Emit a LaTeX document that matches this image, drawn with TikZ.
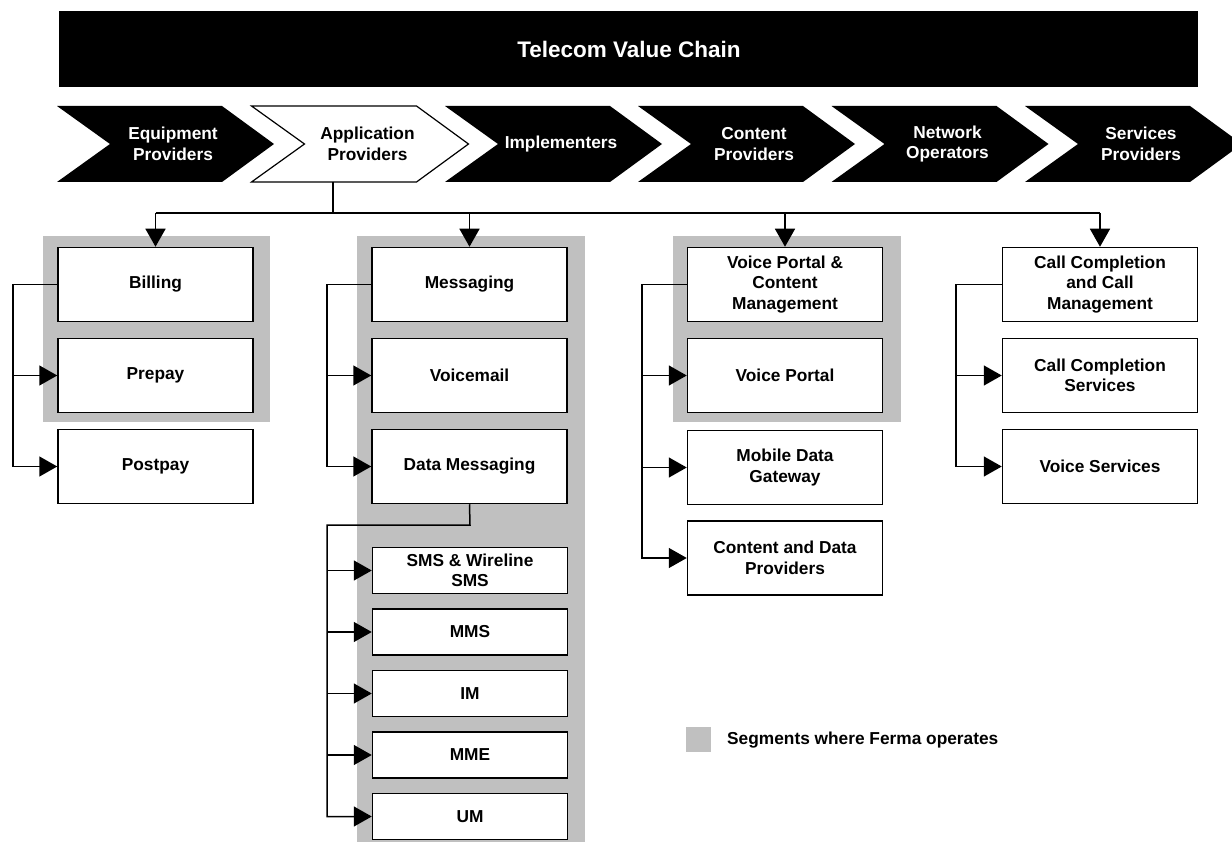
\documentclass[tikz,border=0pt]{standalone}
\usepackage{fontspec}
\setmainfont{Liberation Sans}
\usetikzlibrary{arrows.meta}
\definecolor{segray}{RGB}{192,192,192}
\begin{document}
\begin{tikzpicture}[x=1pt,y=-1pt,
  txt/.style={font=\bfseries\fontsize{17.3}{20.5}\selectfont, align=center},
  box/.style={txt, draw=black, line width=1.5pt, fill=white, minimum width=195pt, minimum height=74pt, inner sep=2pt},
  sbox/.style={box, minimum height=46pt},
  seg/.style={fill=segray, draw=none},
  conn/.style={draw=black, line width=1.5pt},
  arr/.style={conn, -{Triangle[length=18pt,width=20pt]}},
  chevtxt/.style={txt, text=white}]
\useasboundingbox (0,0) rectangle (1232,842);

% title bar
\fill[black] (59,11) rectangle (1198,87);
\node[font=\bfseries\fontsize{22.5}{26}\selectfont, text=white] (title) at (629,49) {Telecom Value Chain};

% chevrons
\foreach \x in {57,445,638,831.5,1025}{
  \fill[black] (\x,106) -- ++(165,0) -- ++(52,38) -- ++(-52,38) -- ++(-165,0) -- ++(53,-38) -- cycle;
}
\draw[fill=white, line width=1.2pt] (251.5,106) -- ++(165,0) -- ++(52,38) -- ++(-52,38) -- ++(-165,0) -- ++(53,-38) -- cycle;
\node[chevtxt] (eq)  at (173,144) {Equipment\\Providers};
\node[txt]     (app) at (367.5,144) {Application\\Providers};
\node[chevtxt] (imp) at (561,144) {Implementers};
\node[chevtxt] (con) at (754,144) {Content\\Providers};
\node[chevtxt] (net) at (947.5,144) {Network\\Operators};
\node[chevtxt] (srv) at (1141,144) {Services\\Providers};

% grey segments
\fill[seg] (43,236) rectangle (270,422);
\fill[seg] (357,236) rectangle (585,842);
\fill[seg] (673,236) rectangle (901,422);

% column 1
\node[box] (bill) at (155.5,284.5) {Billing};
\node[box] (pre)  at (155.5,375.5) {Prepay};
\node[box] (post) at (155.5,466.5) {Postpay};

% column 2
\node[box] (msg)  at (469.5,284.5) {Messaging};
\node[box] (vm)   at (469.5,375.5) {Voicemail};
\node[box] (dm)   at (469.5,466.5) {Data Messaging};
\node[sbox] (sms) at (470,570.5) {SMS \& Wireline\\SMS};
\node[sbox] (mms) at (470,632) {MMS};
\node[sbox] (im)  at (470,693.5) {IM};
\node[sbox] (mme) at (470,755) {MME};
\node[sbox] (um)  at (470,816.5) {UM};

% column 3
\node[box] (vpcm) at (785,284.5) {Voice Portal \&\\Content\\Management};
\node[box] (vp)   at (785,375.5) {Voice Portal};
\node[box] (mdg)  at (785,467.5) {Mobile Data\\Gateway};
\node[box] (cdp)  at (785,558) {Content and Data\\Providers};

% column 4
\node[box] (ccm) at (1100,284.5) {Call Completion\\and Call\\Management};
\node[box] (ccs) at (1100,375.5) {Call Completion\\Services};
\node[box] (vs)  at (1100,466.5) {Voice Services};

% top connectors
\coordinate (appb) at (333,182);
\coordinate (bus) at (333,213);
\draw[conn] (appb) -- (bus);
\draw[conn] (bill.north |- bus) -- (ccm.north |- bus);
\draw[arr] (bill.north |- bus) -- (bill.north);
\draw[arr] (msg.north |- bus) -- (msg.north);
\draw[arr] (vpcm.north |- bus) -- (vpcm.north);
\draw[arr] (ccm.north |- bus) -- (ccm.north);

% tree column 1
\coordinate (t1) at (13,284.5);
\draw[arr] (bill.west) -- (t1) |- (post.west);
\draw[arr] (t1 |- pre.west) -- (pre.west);

% tree column 2
\coordinate (t2) at (327,284.5);
\draw[arr] (msg.west) -- (t2) |- (dm.west);
\draw[arr] (t2 |- vm.west) -- (vm.west);
\coordinate (d1) at (470,525);
\coordinate (t3) at (327,525);
\draw[arr] (dm.south) -- (d1) -- (t3) |- (um.west);
\draw[arr] (t3 |- sms.west) -- (sms.west);
\draw[arr] (t3 |- mms.west) -- (mms.west);
\draw[arr] (t3 |- im.west) -- (im.west);
\draw[arr] (t3 |- mme.west) -- (mme.west);

% tree column 3
\coordinate (t4) at (642,284.5);
\draw[arr] (vpcm.west) -- (t4) |- (cdp.west);
\draw[arr] (t4 |- vp.west) -- (vp.west);
\draw[arr] (t4 |- mdg.west) -- (mdg.west);

% tree column 4
\coordinate (t5) at (956,284.5);
\draw[arr] (ccm.west) -- (t5) |- (vs.west);
\draw[arr] (t5 |- ccs.west) -- (ccs.west);

% legend
\node[seg, minimum size=25pt, inner sep=0pt] (leg) at (698.5,739.5) {};
\node[txt, anchor=west, inner sep=0pt] (legtxt) at (727,740) {Segments where Ferma operates};
\end{tikzpicture}
\end{document}
